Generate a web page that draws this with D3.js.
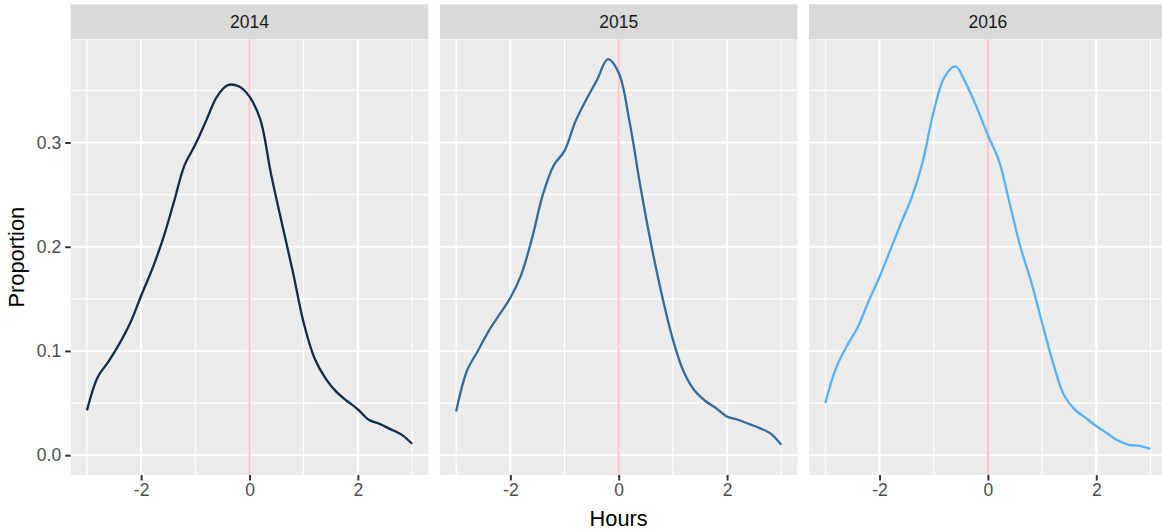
<!DOCTYPE html>
<html>
<head>
<meta charset="utf-8">
<script src="https://cdn.jsdelivr.net/npm/d3@7"></script>
<style>
  html, body { margin: 0; padding: 0; background: #fff; }
  svg { display: block; font-family: "Liberation Sans", Arial, Helvetica, sans-serif; }
</style>
</head>
<body>
<svg id="chart" width="1162" height="531"></svg>
<script>
// ---- Data ----
const years = ["2014", "2015", "2016"];
const hours = [-3.0, -2.8, -2.6, -2.4, -2.2, -2.0, -1.8, -1.6, -1.4, -1.2, -1.0, -0.8, -0.6, -0.4, -0.2,
               0.0, 0.2, 0.4, 0.6, 0.8, 1.0, 1.2, 1.4, 1.6, 1.8, 2.0, 2.2, 2.4, 2.6, 2.8, 3.0];
const density2014 = [0.043, 0.075, 0.090, 0.107, 0.127, 0.153, 0.178, 0.207, 0.242, 0.278, 0.298, 0.321, 0.344, 0.355, 0.354,
                     0.344, 0.322, 0.269, 0.222, 0.176, 0.127, 0.093, 0.074, 0.061, 0.052, 0.044, 0.034, 0.030, 0.025, 0.020, 0.011];
const density2015 = [0.042, 0.081, 0.100, 0.119, 0.135, 0.151, 0.173, 0.208, 0.250, 0.278, 0.292, 0.320, 0.341, 0.360, 0.380,
                     0.367, 0.320, 0.258, 0.202, 0.153, 0.111, 0.080, 0.062, 0.052, 0.045, 0.037, 0.034, 0.030, 0.026, 0.021, 0.010];
const density2016 = [0.050, 0.084, 0.105, 0.123, 0.148, 0.171, 0.197, 0.223, 0.248, 0.282, 0.330, 0.363, 0.373, 0.356, 0.333,
                     0.307, 0.283, 0.242, 0.200, 0.166, 0.127, 0.089, 0.058, 0.044, 0.036, 0.028, 0.021, 0.014, 0.010, 0.009, 0.006];
const xTicks = [-2, 0, 2];
const xMinor = [-3, -1, 1, 3];
const yTicks = [0.0, 0.1, 0.2, 0.3];
const yMinor = [0.05, 0.15, 0.25, 0.35];
const refLine = 0;
const xTitle = "Hours";
const yTitle = "Proportion";

// ---- Layout ----
const series = [density2014, density2015, density2016];
const lineColor = d3.scaleLinear().domain([2014, 2016]).range(["#132B43", "#56B1F7"]).interpolate(d3.interpolateLab);

const panelLeft = 70.7, panelW = 357.6, gap = 11.6;
const stripTop = 4.3, stripH = 35, panelTop = 39.3, panelBottom = 475;

const svg = d3.select("#chart");

const xDomain = [-3.3, 3.3];
const yMax = d3.max(series.flat());
const y = d3.scaleLinear().domain([-0.05 * yMax, yMax * 1.05]).range([panelBottom, panelTop]);

years.forEach((yr, i) => {
  const x0 = panelLeft + i * (panelW + gap);
  const x = d3.scaleLinear().domain(xDomain).range([x0, x0 + panelW]);
  const g = svg.append("g");

  // strip
  g.append("rect").attr("x", x0).attr("y", stripTop).attr("width", panelW).attr("height", stripH).attr("fill", "#D9D9D9");
  g.append("text").attr("x", x0 + panelW / 2).attr("y", stripTop + stripH / 2).attr("text-anchor", "middle")
    .attr("dominant-baseline", "central").attr("font-size", 17.5).attr("fill", "#1A1A1A").text(yr);

  // panel bg
  g.append("rect").attr("x", x0).attr("y", panelTop).attr("width", panelW).attr("height", panelBottom - panelTop).attr("fill", "#EBEBEB");

  // minor grid
  g.selectAll(".ym").data(yMinor).join("line")
    .attr("x1", x0).attr("x2", x0 + panelW).attr("y1", d => y(d)).attr("y2", d => y(d))
    .attr("stroke", "#fff").attr("stroke-width", 1.1);
  g.selectAll(".xm").data(xMinor).join("line")
    .attr("y1", panelTop).attr("y2", panelBottom).attr("x1", d => x(d)).attr("x2", d => x(d))
    .attr("stroke", "#fff").attr("stroke-width", 1.1);
  // major grid
  g.selectAll(".yM").data(yTicks).join("line")
    .attr("x1", x0).attr("x2", x0 + panelW).attr("y1", d => y(d)).attr("y2", d => y(d))
    .attr("stroke", "#fff").attr("stroke-width", 2.1);
  g.selectAll(".xM").data(xTicks).join("line")
    .attr("y1", panelTop).attr("y2", panelBottom).attr("x1", d => x(d)).attr("x2", d => x(d))
    .attr("stroke", "#fff").attr("stroke-width", 2.1);

  // reference line
  g.append("line").attr("x1", x(refLine)).attr("x2", x(refLine)).attr("y1", panelTop).attr("y2", panelBottom)
    .attr("stroke", "#FFC0CB").attr("stroke-width", 2);

  // density curve
  const line = d3.line().x((d, k) => x(hours[k])).y(d => y(d)).curve(d3.curveCatmullRom.alpha(0.5));
  g.append("path").datum(series[i]).attr("d", line).attr("fill", "none")
    .attr("stroke", lineColor(+yr)).attr("stroke-width", 2.3).attr("stroke-linecap", "butt");

  // x axis
  const xAxis = d3.axisBottom(x).tickValues(xTicks).tickSize(5.5).tickPadding(3).tickFormat(d3.format("d"));
  const ax = g.append("g").attr("transform", `translate(0,${panelBottom})`).call(xAxis);
  ax.select(".domain").remove();
  ax.selectAll(".tick line").attr("stroke", "#333333").attr("stroke-width", 2);
  ax.selectAll(".tick text").attr("font-size", 17.5).attr("fill", "#4D4D4D")
    .attr("font-family", "Liberation Sans, Arial, sans-serif").text(d => d < 0 ? "-" + Math.abs(d) : d);
});

// y axis (first panel only)
const yAxis = d3.axisLeft(y).tickValues(yTicks).tickSize(5.5).tickPadding(4).tickFormat(d3.format(".1f"));
const ay = svg.append("g").attr("transform", `translate(${panelLeft},0)`).call(yAxis);
ay.select(".domain").remove();
ay.selectAll(".tick line").attr("stroke", "#333333").attr("stroke-width", 2);
ay.selectAll(".tick text").attr("font-size", 17.5).attr("fill", "#4D4D4D")
  .attr("font-family", "Liberation Sans, Arial, sans-serif");

// titles
svg.append("text").attr("x", panelLeft + (3 * panelW + 2 * gap) / 2).attr("y", 526)
  .attr("text-anchor", "middle").attr("font-size", 21.8).attr("fill", "#000").text(xTitle);
svg.append("text").attr("transform", `translate(24,${(panelTop + panelBottom) / 2}) rotate(-90)`)
  .attr("text-anchor", "middle").attr("font-size", 21.8).attr("fill", "#000").text(yTitle);
</script>
</body>
</html>
